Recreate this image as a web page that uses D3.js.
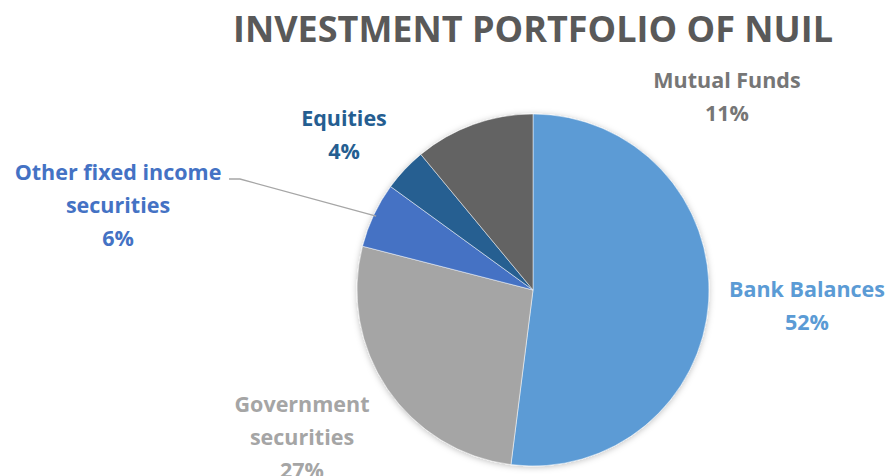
<!DOCTYPE html>
<html>
<head>
<meta charset="utf-8">
<script src="https://cdn.jsdelivr.net/npm/d3@7"></script>
<style>
  body { margin: 0; background: #fff; }
  text { font-family: "Open Sans", Calibri, sans-serif; font-weight: bold; }
</style>
</head>
<body>
<svg width="890" height="476"></svg>
<script>
var categories = ["Bank Balances", "Government securities", "Other fixed income securities", "Equities", "Mutual Funds"];
var shares = [52, 27, 6, 4, 11];
var colors = ["#5B9BD5", "#A5A5A5", "#4472C4", "#255E91", "#636363"];
var labelColors = ["#5B9BD5", "#A5A5A5", "#4472C4", "#255E91", "#767676"];

// label lines, one array per slice
var labelLines = [
    ["Bank Balances"],
    ["Government", "securities"],
    ["Other fixed income", "securities"],
    ["Equities"],
    ["Mutual Funds"]
];
// label anchor (centre of first line) relative to the pie centre
var labelPos = [[274, -1], [-231, 114], [-415, -118], [-189, -172], [194, -210]];

var svg = d3.select("svg");
var cx = 533, cy = 290, radius = 176;

svg.append("text")
    .attr("x", 533)
    .attr("y", 42)
    .attr("text-anchor", "middle")
    .attr("fill", "#595959")
    .style("font-size", "36px")
    .text("INVESTMENT PORTFOLIO OF NUIL");

var defs = svg.append("defs");
var f = defs.append("filter").attr("id", "shadow").attr("x", "-20%").attr("y", "-20%").attr("width", "140%").attr("height", "140%");
f.append("feDropShadow").attr("dx", 0).attr("dy", 1).attr("stdDeviation", 3).attr("flood-color", "#000").attr("flood-opacity", 0.25);

var data = categories.map(function (c, i) { return { name: c, value: shares[i], i: i }; });

var pie = d3.pie().sort(null).value(function (d) { return d.value; });
var arc = d3.arc().innerRadius(0).outerRadius(radius);

var g = svg.append("g")
    .attr("transform", "translate(" + cx + "," + cy + ")");

g.append("g").attr("filter", "url(#shadow)")
    .selectAll("path")
    .data(pie(data))
    .enter()
    .append("path")
    .attr("d", arc)
    .attr("fill", function (d) { return colors[d.data.i]; })
    .attr("stroke", "#fff")
    .attr("stroke-width", 0.5);

// leader line for the small "Other fixed income" slice
var other = pie(data)[2];
var edge = d3.arc().innerRadius(radius).outerRadius(radius).centroid(other);
g.append("polyline")
    .attr("points", [[-304, -111], [-293, -111], [edge[0] * 0.985, edge[1] * 0.985]].map(function (p) { return p.join(","); }).join(" "))
    .attr("fill", "none")
    .attr("stroke", "#A6A6A6")
    .attr("stroke-width", 1.3);

var labels = g.selectAll(".lbl")
    .data(data)
    .enter()
    .append("text")
    .attr("class", "lbl")
    .attr("text-anchor", "middle")
    .attr("fill", function (d) { return labelColors[d.i]; })
    .style("font-size", "21.5px");

labels.each(function (d) {
    var t = d3.select(this);
    var p = labelPos[d.i];
    var lines = labelLines[d.i].concat([d.value + "%"]);
    lines.forEach(function (s, k) {
        t.append("tspan")
            .attr("x", p[0])
            .attr("y", p[1] + k * 33)
            .attr("dy", "0.35em")
            .text(s);
    });
});
</script>
</body>
</html>
